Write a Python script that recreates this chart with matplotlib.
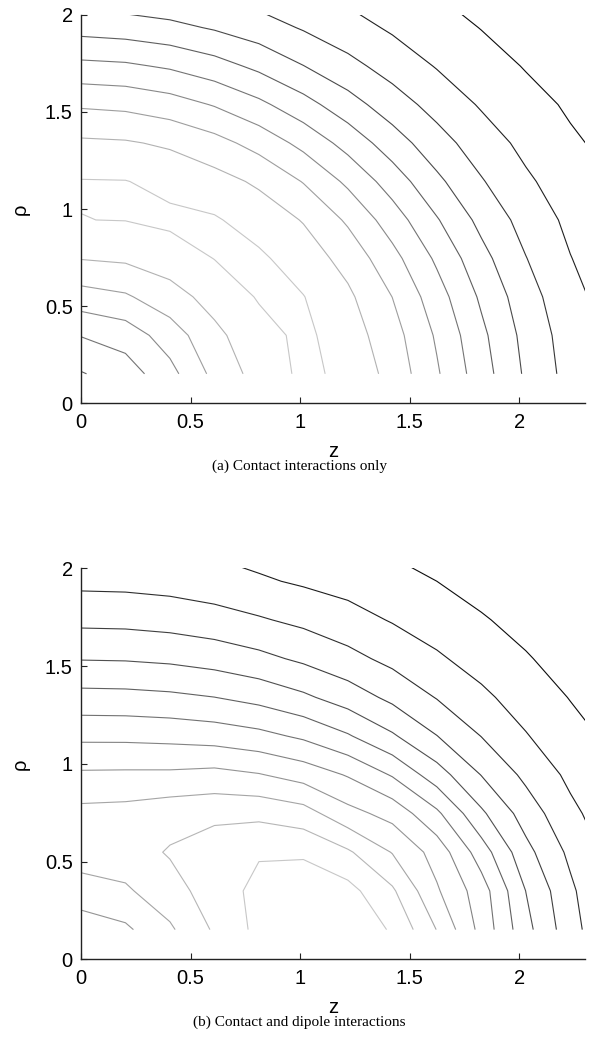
import matplotlib
matplotlib.use("Agg")
import matplotlib.pyplot as plt
from matplotlib.colors import Normalize
from matplotlib.ticker import FormatStrFormatter

plt.rcParams["font.family"] = ["Liberation Sans", "DejaVu Sans"]

# Sampling grid of the condensate solution (axial z, radial rho)
z_nodes = [0.0, 0.203, 0.406, 0.609, 0.812, 1.015, 1.218, 1.421, 1.624, 1.827, 2.030, 2.233, 2.436]
rho_nodes = [0.152, 0.350, 0.548, 0.746, 0.944, 1.142, 1.340, 1.538, 1.736, 1.934, 2.132]

# (a) contact interactions only: one row per rho node, one column per z node
field_contact = [
    [4.93, 5.49, 6.68, 8.28, 9.40, 10.21, 9.78, 8.65, 7.12, 5.45, 3.85, 2.63, 1.71],
    [6.04, 6.45, 7.48, 8.75, 9.65, 10.22, 9.49, 8.41, 6.87, 5.23, 3.69, 2.52, 1.64],
    [7.58, 7.87, 8.60, 9.37, 10.08, 10.03, 9.19, 7.99, 6.44, 4.84, 3.42, 2.31, 1.52],
    [9.04, 9.16, 9.50, 10.02, 10.17, 9.52, 8.65, 7.33, 5.83, 4.32, 3.03, 2.03, 1.34],
    [9.99, 10.02, 10.21, 10.10, 9.58, 8.94, 7.85, 6.50, 5.08, 3.72, 2.63, 1.77, 1.11],
    [10.05, 10.03, 9.73, 9.37, 8.84, 7.95, 6.80, 5.54, 4.22, 3.08, 2.16, 1.48, 0.91],
    [9.17, 9.10, 8.85, 8.35, 7.64, 6.71, 5.64, 4.48, 3.40, 2.49, 1.74, 1.14, 0.73],
    [7.87, 7.76, 7.45, 6.93, 6.23, 5.37, 4.41, 3.47, 2.64, 1.90, 1.34, 0.87, 0.53],
    [6.26, 6.16, 5.87, 5.40, 4.77, 4.02, 3.30, 2.60, 1.94, 1.43, 0.94, 0.64, 0.32],
    [4.63, 4.50, 4.27, 3.90, 3.45, 2.91, 2.39, 1.86, 1.42, 0.97, 0.68, 0.39, 0.23],
    [3.23, 3.10, 2.94, 2.74, 2.41, 2.00, 1.66, 1.29, 0.93, 0.68, 0.41, 0.24, 0.14],
]

# (b) contact and dipole interactions
field_dipole = [
    [8.54, 8.815, 9.85, 11.13, 12.28, 12.75, 12.60, 11.91, 9.97, 7.68, 5.32, 3.40, 1.91],
    [9.45, 9.86, 10.59, 11.49, 12.28, 12.60, 12.33, 11.15, 9.12, 7.47, 4.99, 3.20, 1.71],
    [10.62, 10.54, 11.09, 11.60, 11.91, 11.86, 11.14, 9.95, 8.60, 6.50, 4.31, 2.78, 1.62],
    [10.29, 10.36, 10.60, 10.73, 10.75, 10.42, 9.33, 8.66, 7.20, 5.18, 3.55, 2.24, 1.35],
    [9.16, 9.18, 9.19, 9.31, 9.06, 8.60, 7.92, 6.91, 5.46, 3.97, 2.77, 1.78, 1.03],
    [7.78, 7.77, 7.70, 7.56, 7.29, 6.83, 6.10, 5.13, 4.02, 2.98, 2.06, 1.36, 0.77],
    [6.33, 6.30, 6.20, 6.01, 5.68, 5.18, 4.53, 3.76, 2.95, 2.20, 1.57, 0.96, 0.50],
    [4.95, 4.92, 4.81, 4.59, 4.26, 3.82, 3.30, 2.73, 2.13, 1.62, 1.09, 0.56, 0.25],
    [3.75, 3.72, 3.60, 3.40, 3.10, 2.77, 2.38, 1.93, 1.55, 1.10, 0.65, 0.20, 0.10],
    [2.75, 2.72, 2.62, 2.42, 2.13, 1.87, 1.63, 1.33, 1.00, 0.60, 0.30, 0.10, 0.05],
    [1.94, 1.91, 1.85, 1.72, 1.50, 1.30, 1.07, 0.80, 0.50, 0.25, 0.10, 0.05, 0.02],
]

levels_contact = [1, 2, 3, 4, 5, 6, 7, 8, 9, 10]
levels_dipole = [1, 2, 3, 4, 5, 6, 7, 8, 9, 10, 11, 12]

tick_values = [0, 0.5, 1, 1.5, 2]

fig = plt.figure(figsize=(5.99, 10.57), dpi=100)
ax_a = fig.add_axes([0.1352, 0.6184, 0.8414, 0.3676])
ax_b = fig.add_axes([0.1352, 0.0924, 0.8414, 0.3699])

panels = [
    (ax_a, field_contact, levels_contact, Normalize(0.4, 12.7), -0.125,
     0.559, "(a) Contact interactions only"),
    (ax_b, field_dipole, levels_dipole, Normalize(0.25, 15.3), -0.123,
     0.033, "(b) Contact and dipole interactions"),
]

for ax, field, levels, norm, zlab_y, cap_y, caption in panels:
    ax.contour(z_nodes, rho_nodes, field, levels=levels, cmap="gray",
               norm=norm, linewidths=0.8)
    ax.set_xlim(0, 2.3)
    ax.set_ylim(0, 2)
    ax.spines["top"].set_visible(False)
    ax.spines["right"].set_visible(False)
    for side in ("left", "bottom"):
        ax.spines[side].set_linewidth(1.0)
        ax.spines[side].set_color("#222222")
    ax.set_xticks(tick_values)
    ax.set_yticks(tick_values)
    ax.xaxis.set_major_formatter(FormatStrFormatter("%g"))
    ax.yaxis.set_major_formatter(FormatStrFormatter("%g"))
    ax.tick_params(direction="in", length=4, width=0.8, labelsize=14.5,
                   color="#222222")
    ax.tick_params(axis="x", pad=7)
    ax.tick_params(axis="y", pad=6)
    ax.set_xlabel("z", fontsize=14.5)
    ax.xaxis.label.set_va("center")
    ax.xaxis.set_label_coords(0.5, zlab_y)
    ax.set_ylabel("ρ", fontsize=14.5)
    ax.yaxis.label.set_va("center")
    ax.yaxis.set_label_coords(-0.121, 0.5)
    fig.text(0.5, cap_y, caption, ha="center", va="center",
             family="Liberation Serif", fontsize=11)

fig.savefig("out.png", dpi=100)
